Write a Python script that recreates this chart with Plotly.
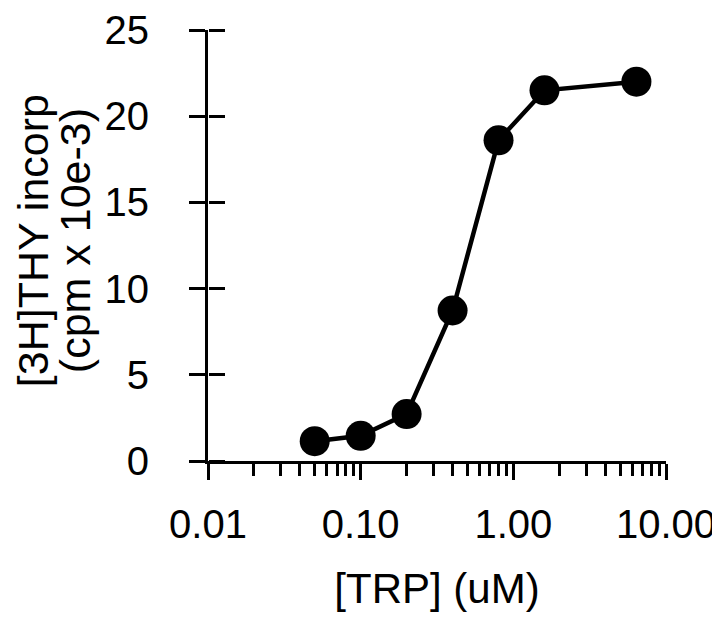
import plotly.graph_objects as go

# Data
trp_uM = [0.05, 0.1, 0.2, 0.4, 0.8, 1.6, 6.4]
thy_incorp = [1.15, 1.46, 2.72, 8.73, 18.6, 21.5, 22.0]

x_tickvals = [0.01, 0.1, 1, 10]
x_ticktext = ["0.01", "0.10", "1.00", "10.00"]
y_tickvals = [0, 5, 10, 15, 20, 25]

x_title = "[TRP] (uM)"
y_title_lines = ["[3H]THY incorp", "(cpm x 10e-3)"]

FONT = "Liberation Sans, Arial, Helvetica, sans-serif"

fig = go.Figure()
fig.add_trace(go.Scatter(
    x=trp_uM, y=thy_incorp, mode="lines+markers",
    line=dict(color="black", width=4.5),
    marker=dict(color="black", size=30),
    cliponaxis=False, showlegend=False,
))
# invisible trace hosting the overlaying axis that draws the right half of the y ticks
fig.add_trace(go.Scatter(x=trp_uM, y=thy_incorp, yaxis="y2", mode="markers",
                         marker=dict(opacity=0), hoverinfo="skip", showlegend=False))

fig.update_layout(
    width=720, height=625,
    margin=dict(l=200, r=62, t=22, b=172, autoexpand=False),
    paper_bgcolor="white", plot_bgcolor="white",
    font=dict(family=FONT, color="black"),
    xaxis=dict(
        type="log", range=[-2, 1], automargin=False,
        tickvals=x_tickvals, ticktext=x_ticktext,
        ticks="outside", ticklen=16, tickwidth=3, tickcolor="black",
        showline=True, linewidth=3, linecolor="black",
        showgrid=False, zeroline=False,
        minor=dict(ticks="outside", ticklen=12, tickwidth=3, tickcolor="black",
                   dtick="D1", showgrid=False),
        tickfont=dict(size=40, family=FONT),
        ticklabelstandoff=10, ticklabeloverflow="allow",
        title=dict(text=x_title, font=dict(size=42, family=FONT), standoff=29),
    ),
    yaxis=dict(
        range=[0, 25], tickvals=y_tickvals, automargin=False,
        ticks="outside", ticklen=16, tickwidth=3, tickcolor="black",
        showline=True, linewidth=3, linecolor="black",
        showgrid=False, zeroline=False,
        tickfont=dict(size=40, family=FONT),
        ticklabelstandoff=32, ticklabeloverflow="allow",
    ),
    yaxis2=dict(
        overlaying="y", side="right", anchor="free", position=0,
        range=[0, 25], automargin=False,
        tickvals=y_tickvals, ticks="outside", ticklen=16, tickwidth=3,
        tickcolor="black", showticklabels=False, showline=False,
        showgrid=False, zeroline=False,
    ),
)

# two-line y-axis title (tighter line spacing than Plotly's <br>)
for line_text, shift in zip(y_title_lines, [-175, -133]):
    fig.add_annotation(
        text=line_text, textangle=-90, showarrow=False,
        xref="paper", yref="paper", x=0, y=0.51,
        xanchor="center", yanchor="middle", xshift=shift,
        font=dict(size=43, family=FONT, color="black"),
    )

fig.write_html("out.html")
